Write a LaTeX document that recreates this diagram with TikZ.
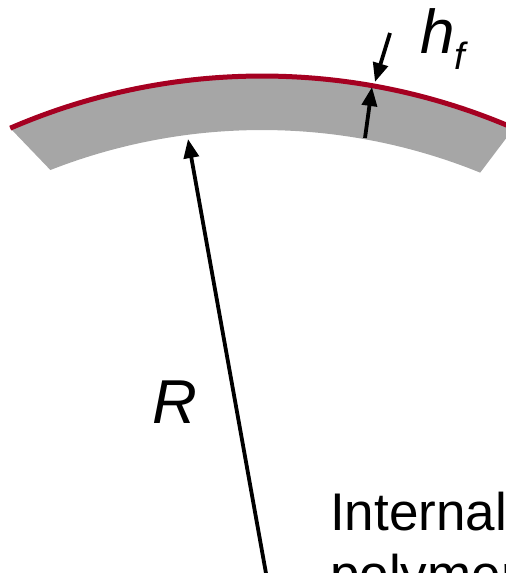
\documentclass[tikz,border=0pt]{standalone}
\usepackage{fontspec}
\setmainfont{Liberation Sans}
\usetikzlibrary{positioning,arrows.meta,calc}
\definecolor{skinred}{RGB}{165,0,33}
\definecolor{shellgray}{RGB}{166,166,166}
\tikzset{
  shell/.style   = {fill=shellgray, draw=none},
  skin/.style    = {draw=skinred, line width=5pt},
  edge/.style    = {-{Triangle[length=19pt,width=15pt]}, line width=3.8pt},
  symbol/.style  = {font=\fontsize{62}{74}\selectfont\itshape, inner sep=0pt},
  caption_in/.style = {font=\fontsize{53}{62}\selectfont, align=left, inner sep=0pt}
}

\begin{document}
\begin{tikzpicture}[x=1pt,y=-1pt]
  \useasboundingbox (0,0) rectangle (506,573);
  \clip (0,0) rectangle (506,573);

  \coordinate (ctr) at (262,710);

  % curved shell
  \fill[shell] ([shift={(-113.4:634)}]ctr) arc[start angle=-113.4, end angle=-66.6, radius=634]
    -- ([shift={(-67.9:580)}]ctr) arc[start angle=-67.9, end angle=-111.4, radius=580] -- cycle;
  \draw[skin] ([shift={(-113.4:634)}]ctr) arc[start angle=-113.4, end angle=-66.0, radius=634];

  % radius arrow
  \coordinate (rtail) at (269,590);
  \coordinate (rtip)  at (188,139);
  \draw[edge] (rtail) -- (rtip);
  \node[symbol, anchor=base west] (rlab) at (152,423) {R};

  % thickness arrows
  \coordinate (htop)  at (390,33);
  \coordinate (hin)   at (375,82);
  \coordinate (hbot)  at (365,138);
  \coordinate (hout)  at (372,87);
  \draw[edge] (htop) -- (hin);
  \draw[edge] (hbot) -- (hout);
  \node[symbol, anchor=base west] (hlab) at (420,53)
    {h\raisebox{-0.27em}{\fontsize{38}{40}\selectfont f}};

  % side annotation
  \node[caption_in, anchor=base west] (note) at (330,592) {Internal\\polymer};
\end{tikzpicture}
\end{document}
